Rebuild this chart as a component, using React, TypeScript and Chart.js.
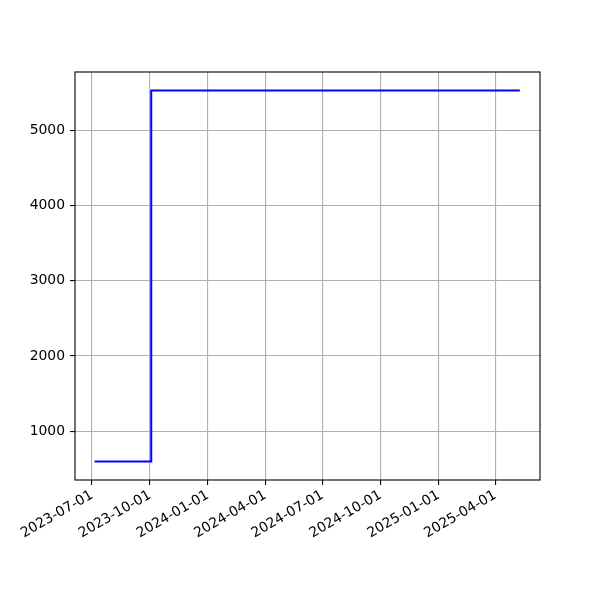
import React, { useEffect, useRef } from "react";
import { Chart, registerables } from "chart.js";

Chart.register(...registerables);

// Data
const stepDates: string[] = ["2023-07-05", "2023-10-03", "2025-05-10"];
const stepValues: number[] = [600, 5525, 5525];

// Axis ticks / limits
const xTickDates: string[] = [
  "2023-07-01",
  "2023-10-01",
  "2024-01-01",
  "2024-04-01",
  "2024-07-01",
  "2024-10-01",
  "2025-01-01",
  "2025-04-01",
];
const yTickValues: number[] = [1000, 2000, 3000, 4000, 5000];
const xLimits: string[] = ["2023-06-04", "2025-06-11"];
const yLimits: number[] = [354, 5771];

const toMs = (s: string) => {
  const [y, m, d] = s.split("-").map(Number);
  return Date.UTC(y, m - 1, d);
};
const fmt = (v: number) => {
  const d = new Date(v);
  const p = (n: number) => String(n).padStart(2, "0");
  return `${d.getUTCFullYear()}-${p(d.getUTCMonth() + 1)}-${p(d.getUTCDate())}`;
};

const framePlugin = {
  id: "frame",
  afterDatasetsDraw(chart: any) {
    const { ctx, chartArea } = chart;
    ctx.save();
    ctx.strokeStyle = "#000";
    ctx.lineWidth = 1.1;
    ctx.strokeRect(
      chartArea.left,
      chartArea.top,
      chartArea.right - chartArea.left,
      chartArea.bottom - chartArea.top
    );
    ctx.restore();
  },
};

export default function App() {
  const ref = useRef<HTMLCanvasElement | null>(null);
  useEffect(() => {
    if (!ref.current) return;
    const font = { family: "DejaVu Sans", size: 13.9 };
    const chart = new Chart(ref.current, {
      type: "line",
      data: {
        datasets: [
          {
            data: stepDates.map((d, i) => ({ x: toMs(d), y: stepValues[i] })),
            borderColor: "#0000ff",
            borderWidth: 2,
            pointRadius: 0,
            stepped: "before",
            fill: false,
          },
        ],
      },
      options: {
        animation: false,
        responsive: false,
        devicePixelRatio: 1,
        layout: { padding: { top: 72, right: 60, left: 0, bottom: 0 } },
        plugins: { legend: { display: false }, tooltip: { enabled: false } },
        scales: {
          x: {
            type: "linear",
            min: toMs(xLimits[0]),
            max: toMs(xLimits[1]),
            afterBuildTicks: (scale: any) => {
              scale.ticks = xTickDates.map((d) => ({ value: toMs(d) }));
            },
            afterFit: (scale: any) => {
              scale.height = 120;
            },
            ticks: {
              autoSkip: false,
              minRotation: 30,
              maxRotation: 30,
              padding: 2,
              color: "#000",
              font,
              callback: (v: any) => fmt(Number(v)),
            },
            grid: {
              color: "#b0b0b0",
              lineWidth: 1.1,
              tickColor: "#000",
              tickLength: 5,
              tickWidth: 1.1,
            },
            border: { display: false },
          },
          y: {
            type: "linear",
            min: yLimits[0],
            max: yLimits[1],
            afterBuildTicks: (scale: any) => {
              scale.ticks = yTickValues.map((v) => ({ value: v }));
            },
            afterFit: (scale: any) => {
              scale.width = 75;
            },
            ticks: {
              padding: 5,
              color: "#000",
              font,
              callback: (v: any) => String(v),
            },
            grid: {
              color: "#b0b0b0",
              lineWidth: 1.1,
              tickColor: "#000",
              tickLength: 5,
              tickWidth: 1.1,
            },
            border: { display: false },
          },
        },
      },
      plugins: [framePlugin],
    } as any);
    return () => chart.destroy();
  }, []);
  return (
    <div style={{ position: "absolute", left: 0, top: 0, width: 600, height: 600, background: "#fff" }}>
      <canvas ref={ref} width={600} height={600} />
    </div>
  );
}
